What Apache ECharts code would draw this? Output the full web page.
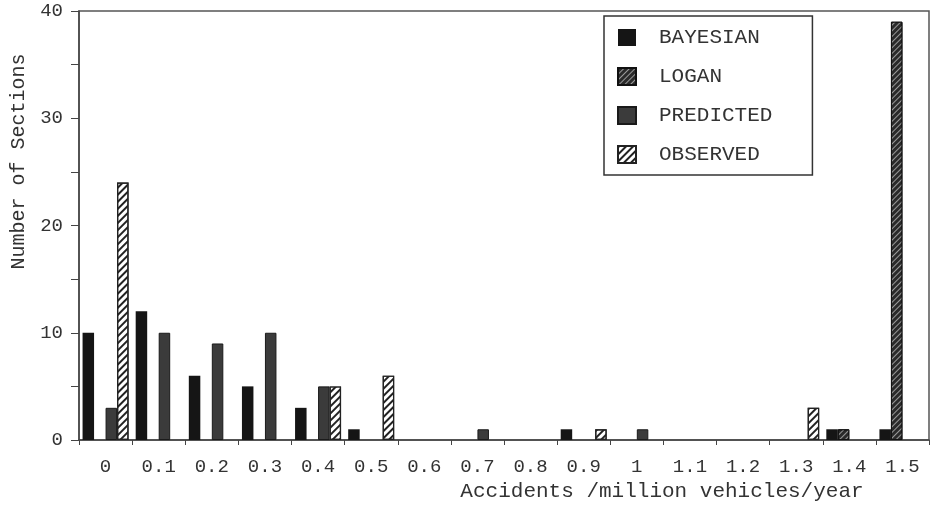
<!DOCTYPE html>
<html>
<head>
<meta charset="utf-8">
<script src="https://cdn.jsdelivr.net/npm/echarts@6/dist/echarts.min.js"></script>
<style>html,body{margin:0;padding:0;background:#fff;}#c{width:933px;height:508px;}</style>
</head>
<body>
<div id="c"></div>
<script>
const categories = ['0','0.1','0.2','0.3','0.4','0.5','0.6','0.7','0.8','0.9','1','1.1','1.2','1.3','1.4','1.5'];
const bayesian  = [10, 12, 6, 5, 3, 1, 0, 0, 0, 1, 0, 0, 0, 0, 1, 1];
const logan     = [0, 0, 0, 0, 0, 0, 0, 0, 0, 0, 0, 0, 0, 0, 1, 39];
const predicted = [3, 10, 9, 10, 5, 0, 0, 1, 0, 0, 1, 0, 0, 0, 0, 0];
const observed  = [24, 0, 0, 0, 5, 6, 0, 0, 0, 1, 0, 0, 0, 3, 0, 0];
const yTicks = [0, 10, 20, 30, 40];

const FONT = '"Liberation Mono", "DejaVu Sans Mono", monospace';
const chart = echarts.init(document.getElementById('c'), null, {renderer: 'canvas'});
const nz = arr => arr.map(v => (v === 0 ? '-' : v));

const option = {
  backgroundColor: '#fff',
  animation: false,
  textStyle: {fontFamily: FONT, color: '#333'},
  grid: {left: 79, right: 4, top: 11, bottom: 68, show: true, borderColor: '#555', borderWidth: 1.5},
  legend: {
    orient: 'vertical', left: 604, top: 16, width: 199,
    padding: [11, 40, 10, 13],
    itemGap: 18, itemWidth: 18, itemHeight: 17, icon: 'rect',
    borderColor: '#333', borderWidth: 1.5, backgroundColor: '#fff',
    textStyle: {fontFamily: FONT, fontSize: 21, color: '#333', padding: [0, 0, 0, 18]},
    data: ['BAYESIAN', 'LOGAN', 'PREDICTED', 'OBSERVED']
  },
  xAxis: {
    type: 'category', data: categories,
    axisLine: {lineStyle: {color: '#444', width: 1.5}},
    axisTick: {show: true, length: 5, lineStyle: {color: '#444'}},
    axisLabel: {fontFamily: FONT, fontSize: 19, color: '#333', margin: 17},
    name: 'Accidents /million vehicles/year', nameLocation: 'middle', nameGap: 41,
    nameTextStyle: {fontFamily: FONT, fontSize: 21, color: '#333', padding: [0, 0, 0, 316]}
  },
  yAxis: {
    type: 'value', min: yTicks[0], max: yTicks[yTicks.length - 1], interval: 10,
    axisLine: {show: true, lineStyle: {color: '#444', width: 1.5}},
    axisTick: {show: true, length: 8, lineStyle: {color: '#444'}},
    minorTick: {show: true, splitNumber: 2, length: 8, lineStyle: {color: '#444'}},
    splitLine: {show: false},
    axisLabel: {fontFamily: FONT, fontSize: 19, color: '#333', margin: 16},
    name: 'Number of Sections', nameLocation: 'middle', nameGap: 50,
    nameTextStyle: {fontFamily: FONT, fontSize: 20, color: '#333', padding: [0, 0, 0, 128]}
  },
  series: [
    {name: 'BAYESIAN', type: 'bar', data: nz(bayesian), barWidth: 11.5, barGap: '0%',
     itemStyle: {color: '#151515'}},
    {name: 'LOGAN', type: 'bar', data: nz(logan), barWidth: 11.5,
     itemStyle: {color: '#2a2a2a', borderColor: '#111', borderWidth: 1,
       decal: {symbol: 'rect', dashArrayX: [1, 0], dashArrayY: [1, 3], rotation: -Math.PI / 4, color: 'rgba(200,200,200,0.7)'}}},
    {name: 'PREDICTED', type: 'bar', data: nz(predicted), barWidth: 11.5,
     itemStyle: {color: '#3b3b3b', borderColor: '#1a1a1a', borderWidth: 1}},
    {name: 'OBSERVED', type: 'bar', data: nz(observed), barWidth: 11.5,
     itemStyle: {color: '#fff', borderColor: '#222', borderWidth: 1.2,
       decal: {symbol: 'rect', dashArrayX: [1, 0], dashArrayY: [2, 3], rotation: -Math.PI / 4, color: '#222'}}}
  ]
};
chart.setOption(option);
</script>
</body>
</html>
